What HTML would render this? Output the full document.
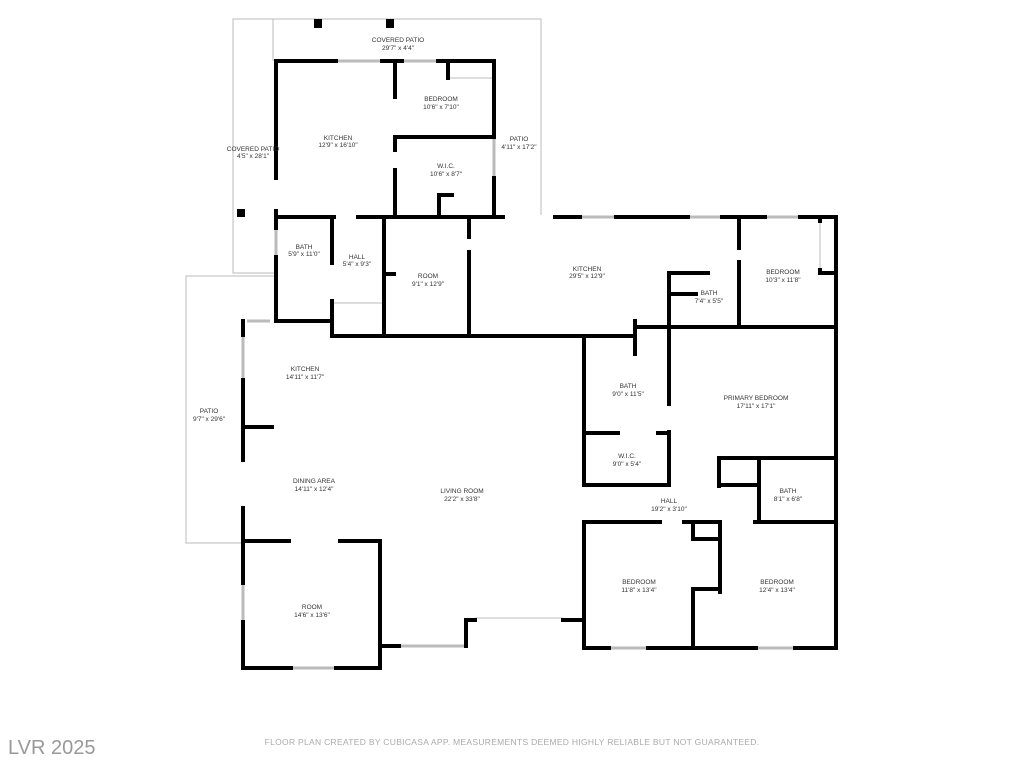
<!DOCTYPE html>
<html><head><meta charset="utf-8"><style>
html,body{margin:0;padding:0;background:#fff;width:1024px;height:768px;overflow:hidden}
svg{display:block}
text{font-family:"Liberation Sans",sans-serif;font-size:6.5px;fill:#333;text-anchor:middle}
</style></head><body>
<svg width="1024" height="768" viewBox="0 0 1024 768">
<g stroke="#bbb" stroke-width="1" fill="none">
<polyline points="273,61 273,19 541,19 541,215"/>
<polyline points="273,19 233,19 233,273 276,273"/>
<polyline points="276,276 186,276 186,543 243,543"/>
<line x1="336" y1="61" x2="382" y2="61" stroke-width="3"/>
<line x1="402" y1="61" x2="438" y2="61" stroke-width="3"/>
<line x1="494" y1="137" x2="494" y2="178" stroke-width="3"/>
<line x1="276" y1="228" x2="276" y2="257" stroke-width="3"/>
<line x1="247" y1="321" x2="270" y2="321" stroke-width="3"/>
<line x1="243" y1="335" x2="243" y2="380" stroke-width="3"/>
<line x1="243" y1="583" x2="243" y2="622" stroke-width="3"/>
<line x1="291" y1="668" x2="336" y2="668" stroke-width="3"/>
<line x1="400" y1="646" x2="466" y2="646" stroke-width="3"/>
<line x1="580" y1="217" x2="616" y2="217" stroke-width="3"/>
<line x1="688" y1="217" x2="722" y2="217" stroke-width="3"/>
<line x1="765" y1="217" x2="800" y2="217" stroke-width="3"/>
<line x1="836" y1="410" x2="836" y2="450" stroke-width="3"/>
<line x1="836" y1="478" x2="836" y2="510" stroke-width="3"/>
<line x1="836" y1="565" x2="836" y2="605" stroke-width="3"/>
<line x1="609" y1="648" x2="648" y2="648" stroke-width="3"/>
<line x1="756" y1="648" x2="795" y2="648" stroke-width="3"/>
<line x1="475" y1="618" x2="563" y2="618"/>
<line x1="448" y1="78" x2="492" y2="78"/>
<line x1="820" y1="222" x2="820" y2="270"/>
<line x1="334" y1="303" x2="382" y2="303"/>
</g>
<g fill="#000"><rect x="314" y="19" width="8" height="9"/><rect x="386" y="19" width="8" height="9"/><rect x="237" y="209" width="8" height="8"/></g>
<g stroke="#000" stroke-width="4" fill="none" stroke-linecap="square">
<polyline points="276,178 276,61 336,61"/><line x1="382" y1="61" x2="402" y2="61"/><polyline points="438,61 494,61 494,137"/>
<polyline points="276,211 276,228"/><polyline points="276,257 276,321 332,321 332,336"/>
<line x1="494" y1="178" x2="494" y2="217"/>
<line x1="395" y1="61" x2="395" y2="97"/><line x1="395" y1="137" x2="494" y2="137"/>
<line x1="395" y1="137" x2="395" y2="150"/><line x1="395" y1="170" x2="395" y2="217"/>
<polyline points="448,61 448,78"/><polyline points="452,195 439,195 439,217"/>
<line x1="276" y1="217" x2="334" y2="217"/><line x1="358" y1="217" x2="503" y2="217"/>
<line x1="555" y1="217" x2="580" y2="217"/><line x1="616" y1="217" x2="688" y2="217"/>
<line x1="722" y1="217" x2="765" y2="217"/><polyline points="800,217 836,217 836,648 795,648"/>
<line x1="756" y1="648" x2="648" y2="648"/><polyline points="609,648 584,648 584,522"/>
<line x1="820" y1="217" x2="820" y2="221"/><polyline points="820,270 820,273 836,273"/>
<line x1="739" y1="217" x2="739" y2="248"/><line x1="739" y1="262" x2="739" y2="327"/>
<line x1="635" y1="327" x2="836" y2="327"/><line x1="635" y1="321" x2="635" y2="354"/>
<polyline points="708,273 669,273 669,404"/><line x1="669" y1="294" x2="696" y2="294"/>
<line x1="332" y1="217" x2="332" y2="263"/><line x1="332" y1="301" x2="332" y2="336"/>
<line x1="332" y1="336" x2="584" y2="336"/><line x1="584" y1="336" x2="635" y2="336"/>
<line x1="384" y1="217" x2="384" y2="336"/><line x1="384" y1="274" x2="394" y2="274"/>
<line x1="469" y1="217" x2="469" y2="237"/><line x1="469" y1="252" x2="469" y2="336"/>
<polyline points="584,336 584,485 669,485 669,432"/>
<line x1="584" y1="433" x2="618" y2="433"/><line x1="658" y1="433" x2="669" y2="433"/>
<polyline points="719,486 719,458 836,458"/><line x1="759" y1="458" x2="759" y2="521"/><line x1="719" y1="485" x2="759" y2="485"/>
<line x1="584" y1="522" x2="660" y2="522"/><line x1="684" y1="522" x2="720" y2="522"/><line x1="755" y1="522" x2="836" y2="522"/>
<polyline points="693,522 693,539 720,539"/><line x1="720" y1="522" x2="720" y2="592"/>
<polyline points="720,589 693,589 693,648"/>
<polyline points="563,620 583,620"/><polyline points="475,620 466,620 466,646"/>
<line x1="380" y1="646" x2="399" y2="646"/>
<polyline points="380,541 380,668 336,668"/><polyline points="291,668 243,668 243,622"/>
<line x1="243" y1="583" x2="243" y2="508"/><line x1="243" y1="460" x2="243" y2="380"/>
<line x1="243" y1="335" x2="243" y2="321"/><line x1="243" y1="427" x2="272" y2="427"/>
<line x1="243" y1="541" x2="289" y2="541"/><line x1="340" y1="541" x2="380" y2="541"/>
</g>
<text x="398" y="42">COVERED PATIO</text><text x="398" y="50">29'7" x 4'4"</text>
<text x="253" y="151">COVERED PATIO</text><text x="253" y="158">4'5" x 28'1"</text>
<text x="338" y="140">KITCHEN</text><text x="338" y="147">12'9" x 16'10"</text>
<text x="441" y="101">BEDROOM</text><text x="441" y="109">10'6" x 7'10"</text>
<text x="446" y="168">W.I.C.</text><text x="446" y="176">10'6" x 8'7"</text>
<text x="519" y="141">PATIO</text><text x="519" y="149">4'11" x 17'2"</text>
<text x="304" y="249">BATH</text><text x="304" y="256">5'9" x 11'0"</text>
<text x="357" y="259">HALL</text><text x="357" y="266">5'4" x 9'3"</text>
<text x="428" y="278">ROOM</text><text x="428" y="286">9'1" x 12'9"</text>
<text x="587" y="271">KITCHEN</text><text x="587" y="278">29'5" x 12'9"</text>
<text x="709" y="295">BATH</text><text x="709" y="303">7'4" x 5'5"</text>
<text x="783" y="274">BEDROOM</text><text x="783" y="282">10'3" x 11'8"</text>
<text x="305" y="371">KITCHEN</text><text x="305" y="379">14'11" x 11'7"</text>
<text x="209" y="413">PATIO</text><text x="209" y="421">9'7" x 29'6"</text>
<text x="628" y="388">BATH</text><text x="628" y="396">9'0" x 11'5"</text>
<text x="756" y="400">PRIMARY BEDROOM</text><text x="756" y="408">17'11" x 17'1"</text>
<text x="627" y="458">W.I.C.</text><text x="627" y="466">9'0" x 5'4"</text>
<text x="314" y="483">DINING AREA</text><text x="314" y="491">14'11" x 12'4"</text>
<text x="462" y="493">LIVING ROOM</text><text x="462" y="501">22'2" x 33'8"</text>
<text x="669" y="503">HALL</text><text x="669" y="511">19'2" x 3'10"</text>
<text x="788" y="493">BATH</text><text x="788" y="501">8'1" x 6'8"</text>
<text x="639" y="584">BEDROOM</text><text x="639" y="592">11'8" x 13'4"</text>
<text x="777" y="584">BEDROOM</text><text x="777" y="592">12'4" x 13'4"</text>
<text x="312" y="609">ROOM</text><text x="312" y="617">14'6" x 13'6"</text>
<text x="512" y="745" style="font-size:8.5px;fill:#aaa;letter-spacing:0.3px">FLOOR PLAN CREATED BY CUBICASA APP. MEASUREMENTS DEEMED HIGHLY RELIABLE BUT NOT GUARANTEED.</text>
<text x="8" y="754" style="font-size:20px;fill:#999;text-anchor:start">LVR 2025</text>
</svg>
</body></html>
